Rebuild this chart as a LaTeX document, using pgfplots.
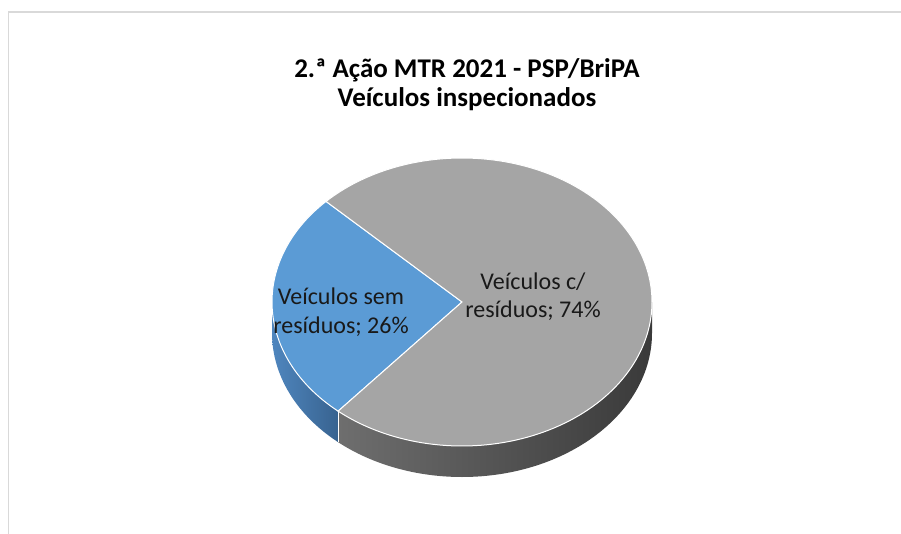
\documentclass[border=0pt]{standalone}
\usepackage{pgfplots}
\usepackage{pgfplotstable}
\pgfplotsset{compat=1.18}
\usepackage{fontspec}
\setmainfont{Carlito}
\definecolor{bluetop}{HTML}{5B9BD5}
\definecolor{graytop}{HTML}{A5A5A5}
\definecolor{blueL}{HTML}{4F86BE}
\definecolor{blueR}{HTML}{386390}
\definecolor{grayL}{HTML}{6E6E6E}
\definecolor{grayR}{HTML}{3A3A3A}
\definecolor{framegray}{HTML}{D9D9D9}
\pgfplotstableread{
label value
sem 26
com 74
}\piedata
\pgfplotstablegetelem{0}{value}\of\piedata \let\vA\pgfplotsretval
\pgfplotstablegetelem{1}{value}\of\piedata \let\vB\pgfplotsretval
\pgfmathsetmacro\aS{135.7}
\pgfmathsetmacro\aM{\aS+3.6*\vA}
\pgfmathsetmacro\aE{\aM+3.6*\vB}
\pgfmathsetmacro\bx{462+190*cos(\aM)}
\pgfmathsetmacro\by{232+144*sin(\aM)}
\pgfmathsetmacro\byb{\by-31}
\begin{document}
\begin{tikzpicture}
\useasboundingbox (0,0) rectangle (901pt,534pt);
\begin{axis}[at={(0pt,0pt)}, anchor=south west, scale only axis,
  width=901pt, height=534pt, xmin=0, xmax=901, ymin=0, ymax=534,
  hide axis, clip=false]
% frame
\addplot[draw=framegray, line width=1.5pt] coordinates {(8.5,0)(8.5,522)(901,522)};
% sides
\addplot[left color=blueL, right color=blueR, draw=none, domain=180:\aM, samples=40]
  ({462+190*cos(x)},{232+144*sin(x)}) -- ++(0pt,-31pt)
  arc[start angle=\aM, end angle=180, x radius=190pt, y radius=144pt] -- cycle;
\addplot[left color=grayL, right color=grayR, draw=none, domain=\aM:360, samples=80]
  ({462+190*cos(x)},{232+144*sin(x)}) -- ++(0pt,-31pt)
  arc[start angle=360, end angle=\aM, x radius=190pt, y radius=144pt] -- cycle;
\addplot[white, line width=1pt] coordinates {(\bx,\by)(\bx,\byb)};
% top faces
\addplot[fill=bluetop, draw=white, line width=1pt, domain=\aS:\aM, samples=60]
  ({462+190*cos(x)},{232+144*sin(x)}) -- (axis cs:462,232) -- cycle;
\addplot[fill=graytop, draw=white, line width=1pt, domain=\aM:\aE, samples=150]
  ({462+190*cos(x)},{232+144*sin(x)}) -- (axis cs:462,232) -- cycle;
% labels
\tikzset{lab/.style={anchor=base, inner sep=0pt, font=\fontsize{24}{28}\selectfont, text=black!90}}
\node[lab] at (axis cs:341,229) {Veículos sem};
\node[lab] at (axis cs:341,200) {resíduos; 26\%};
\node[lab] at (axis cs:533,244) {Veículos c/};
\node[lab] at (axis cs:533,216) {resíduos; 74\%};
% title
\tikzset{ttl/.style={anchor=base, inner sep=0pt, font=\fontsize{27}{32}\selectfont\bfseries}}
\node[ttl] at (axis cs:467,456) {2.ª Ação MTR 2021 - PSP/BriPA};
\node[ttl] at (axis cs:467,427) {Veículos inspecionados};
\end{axis}
\end{tikzpicture}
\end{document}
